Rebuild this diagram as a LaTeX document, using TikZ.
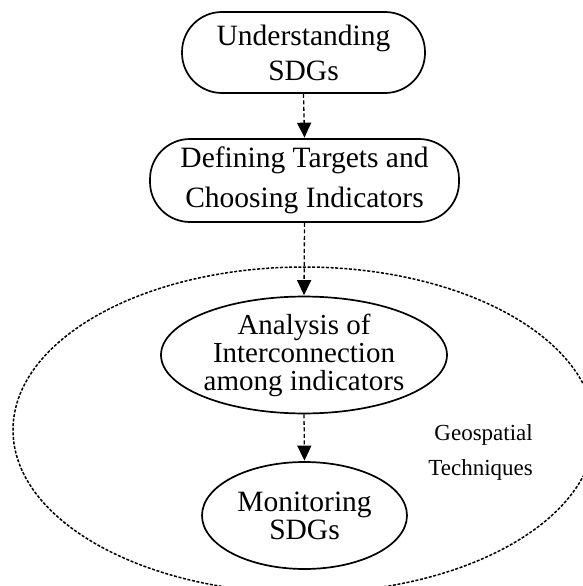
\documentclass[tikz,border=0pt]{standalone}
\usepackage{fontspec}
\setmainfont{Liberation Serif}
\usetikzlibrary{arrows.meta,shapes.geometric}
\begin{document}
\begin{tikzpicture}[x=1pt,y=-1pt,
  stepshape/.style={draw, line width=1.7pt, inner sep=0pt, align=center},
  pillbox/.style={stepshape, rectangle, rounded corners=40pt},
  ovalbox/.style={stepshape, ellipse},
  flowarrow/.style={line width=1.3pt, dash pattern=on 4pt off 2.5pt,
    -{Triangle[width=14pt,length=15pt]}, shorten >=0.5pt},
  groupline/.style={line width=1.5pt, dash pattern=on 3pt off 1.6pt}]
\useasboundingbox (0,0) rectangle (582,586);
\node[draw=none, ellipse, minimum width=582pt, minimum height=326pt, inner sep=0pt] (group) at (304,430) {};
\draw[groupline] (304,430) ellipse [x radius=291, y radius=163];
\node[pillbox, minimum width=243pt, minimum height=81pt,
  font=\fontsize{29.5}{35}\selectfont] (understand) at (303.5,52.5) {Understanding\\SDGs};
\node[pillbox, minimum width=309pt, minimum height=83pt,
  font=\fontsize{29.5}{40}\selectfont] (define) at (304.5,180.5) {Defining Targets and\\Choosing Indicators};
\node[ovalbox, minimum width=286pt, minimum height=116pt,
  font=\fontsize{29}{28}\selectfont] (analysis) at (304,355) {Analysis of\\Interconnection\\among indicators};
\node[ovalbox, minimum width=205pt, minimum height=107pt,
  font=\fontsize{29.5}{28}\selectfont] (monitor) at (304.5,515.5) {Monitoring\\SDGs};
\node[align=right, anchor=east, inner sep=0pt,
  font=\fontsize{23}{35}\selectfont] (geo) at (533,452) {Geospatial\\Techniques};
\draw[flowarrow] (understand.south) -- (define.north);
\draw[flowarrow] (define.south) -- (analysis.north);
\draw[flowarrow] (analysis.south) -- (monitor.north);
\end{tikzpicture}
\end{document}
